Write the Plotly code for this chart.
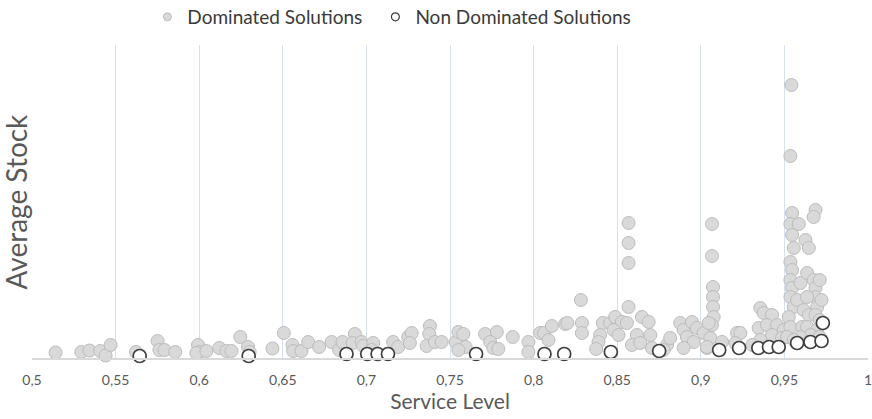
import plotly.graph_objects as go

# Service level (x) and average stock (y, arbitrary units) of every evaluated solution
dominated_service = [
    0.5141, 0.5295, 0.5344, 0.5408, 0.5440, 0.5470, 0.5622, 0.5751, 0.5762, 0.5793,
    0.5857, 0.5993, 0.6003, 0.5983, 0.6043, 0.6120, 0.6163, 0.6193, 0.6246, 0.6292,
    0.6302, 0.6438, 0.6506, 0.6558, 0.6562, 0.6612, 0.6652, 0.6717, 0.6792, 0.6837,
    0.6857, 0.6931, 0.6917, 0.6971, 0.6981, 0.7041, 0.7031, 0.7160, 0.7190, 0.7250,
    0.7271, 0.7260, 0.7380, 0.7376, 0.7360, 0.7410, 0.7450, 0.7534, 0.7550, 0.7580,
    0.7594, 0.7550, 0.7710, 0.7780, 0.7740, 0.7759, 0.7789, 0.7875, 0.7969, 0.7969,
    0.8039, 0.8063, 0.8109, 0.8089, 0.8189, 0.8283, 0.8202, 0.8289, 0.8289, 0.8414,
    0.8458, 0.8488, 0.8528, 0.8558, 0.8568, 0.8398, 0.8388, 0.8374, 0.8478, 0.8508,
    0.8648, 0.8688, 0.8618, 0.8588, 0.8698, 0.8638, 0.8708, 0.8798, 0.8817, 0.8777,
    0.8877, 0.8897, 0.8917, 0.8947, 0.8977, 0.8957, 0.8897, 0.9017, 0.9037, 0.9073,
    0.9073, 0.9073, 0.9077, 0.9067, 0.9047, 0.9057, 0.8568, 0.8568, 0.8568, 0.9067,
    0.9067, 0.9127, 0.9037, 0.9217, 0.9237, 0.9207, 0.9356, 0.9376, 0.9426, 0.9346,
    0.9396, 0.9456, 0.9426, 0.9356, 0.9496, 0.9486, 0.9542, 0.9536, 0.9546, 0.9536,
    0.9586, 0.9546, 0.9556, 0.9536, 0.9546, 0.9536, 0.9546, 0.9536, 0.9556, 0.9526,
    0.9536, 0.9516, 0.9596, 0.9576, 0.9615, 0.9606, 0.9686, 0.9675, 0.9626, 0.9646,
    0.9636, 0.9675, 0.9686, 0.9686, 0.9636, 0.9696, 0.9646, 0.9686, 0.9636, 0.9696,
    0.9675, 0.9656, 0.9596, 0.9556, 0.9712, 0.9711, 0.9722, 0.9711, 0.9308,
]
dominated_stock = [
    5.5, 6, 7.5, 7, 2.5, 13, 6, 17, 8, 8,
    6, 13, 6, 5, 7, 10, 7, 7, 21, 11,
    6, 9.5, 25, 13, 7, 7, 16, 11, 16, 8,
    16, 24, 15, 16, 12, 15, 8, 16, 11, 21,
    25, 15, 32, 24, 12, 16, 16, 16, 26, 24,
    11, 8, 24, 26, 16, 10, 9, 21, 16, 6,
    25, 25, 32, 18, 34, 58, 35, 35, 25, 35,
    35, 41, 36, 35, 51, 23, 16, 9, 28, 23,
    41, 36, 23, 13, 23, 15, 10, 13, 20, 8,
    35, 28, 21, 36, 30, 16, 10, 25, 10, 71,
    61, 51, 41, 33, 35, 20, 135, 115, 95, 134,
    102, 16, 11, 25, 25, 15, 50, 45, 43, 30,
    33, 33, 23, 18, 28, 20, 273, 202, 145, 134,
    134, 123, 110, 96, 88, 78, 70, 61, 51, 41,
    31, 21, 75, 58, 48, 31, 148, 141, 118, 110,
    85, 78, 70, 61, 61, 51, 43, 43, 31, 28,
    21, 23, 21, 18, 21, 38, 58, 78, 13,
]

nondominated_service = [
    0.5644, 0.6296, 0.6881, 0.7005, 0.7067, 0.7129, 0.7656, 0.8065, 0.8183, 0.8462,
    0.8751, 0.9110, 0.9229, 0.9344, 0.9408, 0.9466, 0.9576, 0.9656, 0.9722, 0.9730,
]
nondominated_stock = [
    2, 2, 4, 4, 4, 4, 4, 4, 4, 6,
    7, 8, 10, 10, 11, 11, 15, 16, 17, 35,
]

x_ticks = [0.5, 0.55, 0.6, 0.65, 0.7, 0.75, 0.8, 0.85, 0.9, 0.95, 1.0]
x_tick_labels = ["0,5", "0,55", "0,6", "0,65", "0,7", "0,75", "0,8", "0,85", "0,9", "0,95", "1"]

FONT = "Lato, 'Open Sans', sans-serif"
GREY_FILL = "#d9d9d9"
GREY_EDGE = "#bcbcbc"
DARK_EDGE = "#3f3f3f"

fig = go.Figure()

fig.add_trace(go.Scatter(
    x=dominated_service, y=dominated_stock, mode="markers",
    name="Dominated Solutions", legendgroup="dom", showlegend=False,
    marker=dict(size=13, color=GREY_FILL, line=dict(color=GREY_EDGE, width=1)),
    cliponaxis=False,
))
fig.add_trace(go.Scatter(
    x=nondominated_service, y=nondominated_stock, mode="markers",
    name="Non Dominated Solutions", legendgroup="nondom", showlegend=False,
    marker=dict(size=13, color="white", line=dict(color=DARK_EDGE, width=1.7)),
    cliponaxis=False,
))

# Small legend symbols, one legend box per series
fig.add_trace(go.Scatter(
    x=[None], y=[None], mode="markers", name="Dominated Solutions", legendgroup="dom",
    legend="legend",
    marker=dict(size=8, color=GREY_FILL, line=dict(color=GREY_EDGE, width=1)),
))
fig.add_trace(go.Scatter(
    x=[None], y=[None], mode="markers", name="Non Dominated Solutions", legendgroup="nondom",
    legend="legend2",
    marker=dict(size=8, color="white", line=dict(color=DARK_EDGE, width=1.2)),
))

legend_style = dict(
    orientation="h", xref="container", yref="container",
    xanchor="left", y=1 - 17 / 419, yanchor="middle",
    font=dict(size=19, color="#3a3a3a"), bgcolor="rgba(0,0,0,0)",
    itemclick=False, itemdoubleclick=False,
)

fig.update_layout(
    width=872, height=419,
    margin=dict(l=32, r=4, t=45, b=61),
    paper_bgcolor="white", plot_bgcolor="white",
    font=dict(family=FONT, color="#595959"),
    showlegend=True,
    legend=dict(x=0.169, **legend_style),
    legend2=dict(x=0.4305, **legend_style),
    xaxis=dict(
        range=[0.5, 1.0], tickvals=x_ticks, ticktext=x_tick_labels,
        automargin=False,
        showgrid=True, gridcolor="#d5e0f0", gridwidth=1,
        showline=True, linecolor="#d9d9d9", linewidth=1.5,
        zeroline=False, ticks="outside", ticklen=8, tickcolor="rgba(0,0,0,0)",
        ticklabeloverflow="allow",
        tickfont=dict(size=14, color="#595959"),
        title=dict(text="Service Level", font=dict(size=21, color="#595959"), standoff=8),
    ),
    yaxis=dict(
        range=[0, 313], automargin=False,
        showgrid=False, zeroline=False, showline=False,
        showticklabels=False, ticks="",
    ),
    annotations=[dict(
        text="Average Stock", textangle=-90, showarrow=False,
        xref="paper", yref="paper", x=-17 / 836, y=0.5,
        xanchor="center", yanchor="middle",
        font=dict(size=28, color="#595959"),
    )],
)

fig.write_html("out.html")
